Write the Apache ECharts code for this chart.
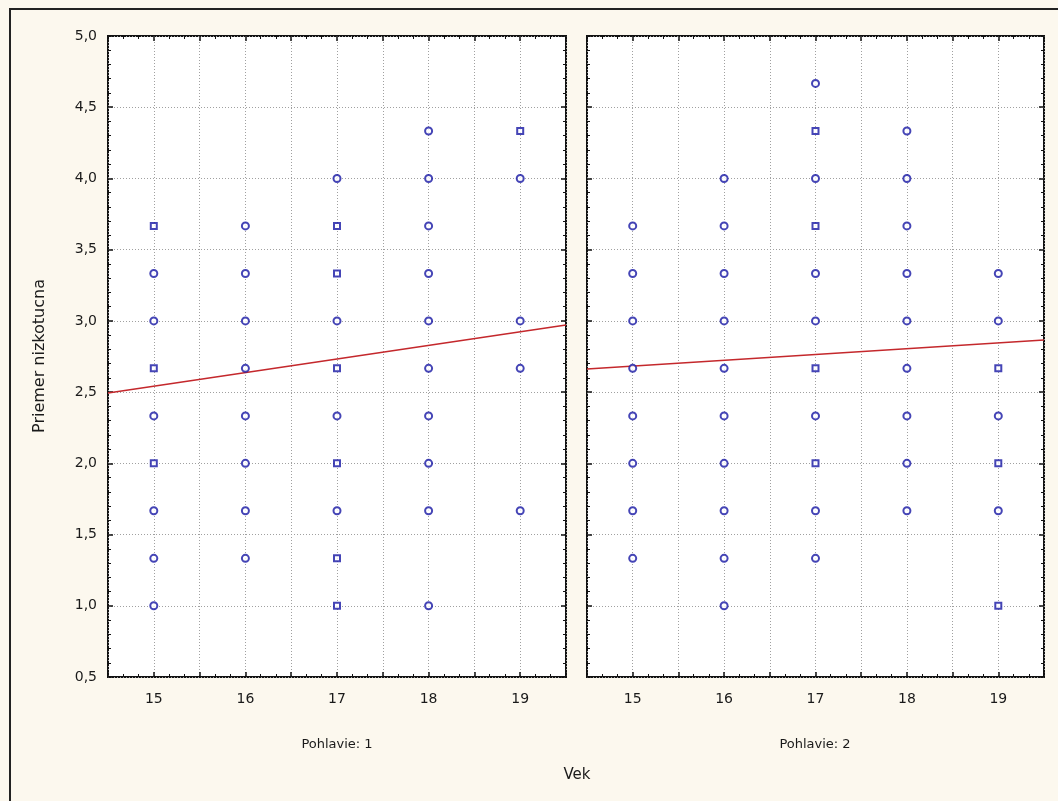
<!DOCTYPE html>
<html>
<head>
<meta charset="utf-8">
<script src="https://cdn.jsdelivr.net/npm/echarts@6/dist/echarts.min.js"></script>
<style>
  html, body { margin: 0; padding: 0; background: #fcf8ee; }
  #chart { width: 1058px; height: 801px; }
</style>
</head>
<body>
<div id="chart"></div>
<script>
// Age (Vek) vs. mean score (Priemer nizkotucna), split by sex (Pohlavie)
const panelTitles = ['Pohlavie: 1', 'Pohlavie: 2'];
const xTitle = 'Vek';
const yTitle = 'Priemer nizkotucna';

// Pohlavie 1: observations drawn as circles and as squares
const sex1Circles = [
  [15, 3.333], [15, 3.0], [15, 2.333], [15, 1.667], [15, 1.333], [15, 1.0],
  [16, 3.667], [16, 3.333], [16, 3.0], [16, 2.667], [16, 2.333], [16, 2.0], [16, 1.667], [16, 1.333],
  [17, 4.0], [17, 3.0], [17, 2.333], [17, 1.667],
  [18, 4.333], [18, 4.0], [18, 3.667], [18, 3.333], [18, 3.0], [18, 2.667], [18, 2.333], [18, 2.0], [18, 1.667], [18, 1.0],
  [19, 4.0], [19, 3.0], [19, 2.667], [19, 1.667]
];
const sex1Squares = [
  [15, 3.667], [15, 2.667], [15, 2.0],
  [17, 3.667], [17, 3.333], [17, 2.667], [17, 2.0], [17, 1.333], [17, 1.0],
  [19, 4.333]
];
// Pohlavie 2
const sex2Circles = [
  [15, 3.667], [15, 3.333], [15, 3.0], [15, 2.667], [15, 2.333], [15, 2.0], [15, 1.667], [15, 1.333],
  [16, 4.0], [16, 3.667], [16, 3.333], [16, 3.0], [16, 2.667], [16, 2.333], [16, 2.0], [16, 1.667], [16, 1.333], [16, 1.0],
  [17, 4.667], [17, 4.0], [17, 3.333], [17, 3.0], [17, 2.333], [17, 1.667], [17, 1.333],
  [18, 4.333], [18, 4.0], [18, 3.667], [18, 3.333], [18, 3.0], [18, 2.667], [18, 2.333], [18, 2.0], [18, 1.667],
  [19, 3.333], [19, 3.0], [19, 2.333], [19, 1.667]
];
const sex2Squares = [
  [17, 4.333], [17, 3.667], [17, 2.667], [17, 2.0],
  [19, 2.667], [19, 2.0], [19, 1.0]
];

// Linear fits, as values at both ends of the age range
const fitX = [14.5, 19.5];
const fit1 = [2.494, 2.971];
const fit2 = [2.662, 2.866];

const xMin = 14.5, xMax = 19.5, yMin = 0.5, yMax = 5.0;

const FONT = 'DejaVu Sans';
const MARK = '#1616a4';
const FIT = '#c4282c';
const TEXT = '#1a1a1a';

const grids = [
  { left: 108, top: 36, width: 458, height: 641 },
  { left: 587, top: 36, width: 457, height: 641 }
].map(g => Object.assign(g, {
  show: true, backgroundColor: '#ffffff', borderColor: '#111', borderWidth: 2, containLabel: false
}));

const dotted = { show: true, lineStyle: { color: '#a0a0a0', type: [1, 2], width: 1 } };

function xAxis(gi, pos, labels) {
  return {
    type: 'value', gridIndex: gi, position: pos, min: xMin, max: xMax, interval: 0.5,
    axisLine: { show: false },
    axisTick: { show: true, inside: true, length: 5, lineStyle: { color: '#111', width: 1.5 } },
    minorTick: { show: true, splitNumber: 3, length: 3, lineStyle: { color: '#111' } },
    splitLine: pos === 'bottom' ? dotted : { show: false },
    axisLabel: labels ? {
      show: true, margin: 15, color: TEXT, fontFamily: FONT, fontSize: 14,
      formatter: v => (Math.abs(v - Math.round(v)) < 1e-9 ? String(Math.round(v)) : '')
    } : { show: false }
  };
}
function yAxis(gi, pos, labels) {
  return {
    type: 'value', gridIndex: gi, position: pos, min: yMin, max: yMax, interval: 0.5,
    axisLine: { show: false },
    axisTick: { show: true, inside: true, length: 5, lineStyle: { color: '#111', width: 1.5 } },
    minorTick: { show: true, splitNumber: 5, length: 3, lineStyle: { color: '#111' } },
    splitLine: pos === 'left' ? dotted : { show: false },
    axisLabel: labels ? {
      show: true, margin: 11, color: TEXT, fontFamily: FONT, fontSize: 14,
      formatter: v => v.toFixed(1).replace('.', ',')
    } : { show: false }
  };
}

function scatter(data, xi, yi, symbol, size) {
  return {
    type: 'scatter', xAxisIndex: xi, yAxisIndex: yi, data: data,
    symbol: symbol, symbolSize: size, z: 4,
    itemStyle: { color: MARK, borderColor: MARK, borderWidth: 2 }
  };
}
function fitLine(vals, xi, yi) {
  return {
    type: 'line', xAxisIndex: xi, yAxisIndex: yi, symbol: 'none', z: 3,
    data: fitX.map((x, i) => [x, vals[i]]),
    lineStyle: { color: FIT, width: 1.6 }, clip: true
  };
}

const option = {
  backgroundColor: '#fcf8ee',
  animation: false,
  grid: grids,
  xAxis: [xAxis(0, 'bottom', true), xAxis(0, 'top', false), xAxis(1, 'bottom', true), xAxis(1, 'top', false)],
  yAxis: [yAxis(0, 'left', true), yAxis(0, 'right', false), yAxis(1, 'left', false), yAxis(1, 'right', false)],
  series: [
    fitLine(fit1, 0, 0),
    scatter(sex1Circles, 0, 0, 'emptyCircle', 7),
    scatter(sex1Squares, 0, 0, 'emptyRect', 6),
    fitLine(fit2, 2, 2),
    scatter(sex2Circles, 2, 2, 'emptyCircle', 7),
    scatter(sex2Squares, 2, 2, 'emptyRect', 6)
  ],
  graphic: [
    { type: 'rect', silent: true, z: 100,
      shape: { x: 10, y: 9, width: 1060, height: 810 },
      style: { fill: 'none', stroke: '#222', lineWidth: 2 } },
    { type: 'text', z: 100, x: 337, y: 745,
      style: { text: panelTitles[0], fill: TEXT, font: '13px "DejaVu Sans"', align: 'center', verticalAlign: 'middle' } },
    { type: 'text', z: 100, x: 815, y: 745,
      style: { text: panelTitles[1], fill: TEXT, font: '13px "DejaVu Sans"', align: 'center', verticalAlign: 'middle' } },
    { type: 'text', z: 100, x: 577, y: 775,
      style: { text: xTitle, fill: TEXT, font: '15px "DejaVu Sans"', align: 'center', verticalAlign: 'middle' } },
    { type: 'text', z: 100, x: 40, y: 356, rotation: Math.PI / 2,
      style: { text: yTitle, fill: TEXT, font: '16px "DejaVu Sans"', align: 'center', verticalAlign: 'middle' } }
  ]
};

const chart = echarts.init(document.getElementById('chart'), null, { renderer: 'canvas' });
chart.setOption(option);
</script>
</body>
</html>
